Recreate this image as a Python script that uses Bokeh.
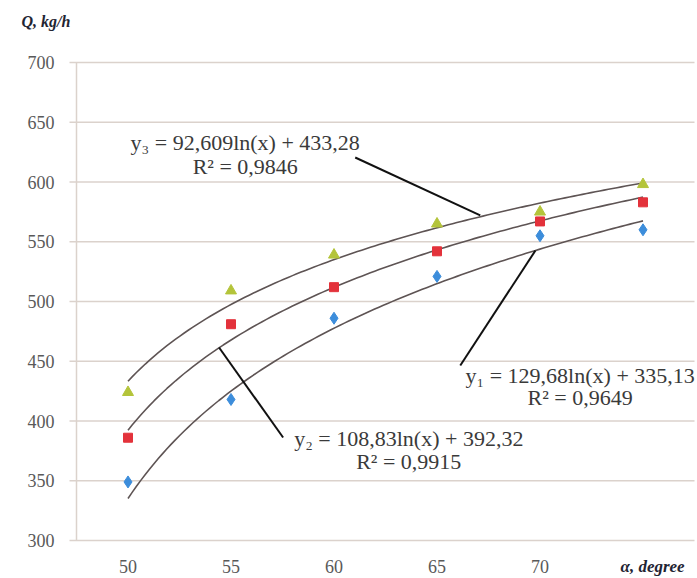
import numpy as np
from bokeh.plotting import figure
from bokeh.models import Range1d, Label, ColumnDataSource
from bokeh.core.properties import value
from bokeh.embed import file_html
from bokeh.resources import INLINE

# ---- data ----
alpha = [50, 55, 60, 65, 70, 75]
x_tick_labels = ["50", "55", "60", "65", "70"]
q_y1 = [349, 418, 486, 521, 555, 560]   # blue diamonds
q_y2 = [386, 481, 512, 542, 567, 583]   # red squares
q_y3 = [424, 509, 539, 565, 575, 598]   # green triangles
y_ticks = [300, 350, 400, 450, 500, 550, 600, 650, 700]
y_tick_labels = [str(t) for t in y_ticks]

# trendline equations shown on the chart: y = a*ln(x) + b, x = category index
trend_a = [129.68, 108.83, 92.609]
trend_b = [335.13, 392.32, 433.28]
eq_text = ["y\u2081 = 129,68ln(x) + 335,13", "y\u2082 = 108,83ln(x) + 392,32", "y\u2083 = 92,609ln(x) + 433,28"]
r2_text = ["R\u00b2 = 0,9649", "R\u00b2 = 0,9915", "R\u00b2 = 0,9846"]

SERIF = "Liberation Serif"

# plot-area limits (category axis from 47.5 to 77.5, value axis 300..700)
X0, X1, Y0, Y1 = 47.5, 77.5, 300, 700
W, H = 696, 576
px_x = 618 / (X1 - X0)     # pixels per x unit
px_y = 478 / (Y1 - Y0)     # pixels per y unit

p = figure(width=W, height=H, output_backend="svg", toolbar_location=None,
           x_range=Range1d(X0 - 76 / px_x, X1 + 2 / px_x),
           y_range=Range1d(Y0 - 36 / px_y, Y1 + 62 / px_y),
           min_border=0)
p.outline_line_color = None
p.background_fill_color = "white"
p.xaxis.visible = False
p.yaxis.visible = False
p.xgrid.grid_line_color = None
p.ygrid.grid_line_color = None

grid_col = "#dbd2cc"
# horizontal gridlines with their outward tick marks
p.segment(x0=[X0 - 7 / px_x] * len(y_ticks), x1=[X1] * len(y_ticks), y0=y_ticks, y1=y_ticks,
          line_color=grid_col, line_width=1.5)
# vertical axis line
p.segment(x0=[X0], x1=[X0], y0=[Y0], y1=[Y1], line_color=grid_col, line_width=1.5)

# tick labels
p.text(x=[X0 - 22 / px_x] * len(y_ticks), y=y_ticks, text=y_tick_labels,
       text_align="right", text_baseline="middle", text_font=value(SERIF),
       text_font_size="18px", text_color="#595959")
p.text(x=alpha[:5], y=[Y0 - 26 / px_y] * 5, text=x_tick_labels,
       text_align="center", text_baseline="middle", text_font=value(SERIF),
       text_font_size="18px", text_color="#595959")

# axis titles
p.text(x=[X0 - 55 / px_x], y=[Y1 + 41 / px_y], text=["Q, kg/h"],
       text_align="left", text_baseline="middle", text_font=value(SERIF),
       text_font_size="16px", text_font_style="bold italic", text_color="#1f2533")
p.text(x=[X0 + 544 / px_x], y=[Y0 - 26 / px_y], text=["\u03b1, degree"],
       text_align="left", text_baseline="middle", text_font=value(SERIF),
       text_font_size="17px", text_font_style="bold italic", text_color="#1f2533")

# trendlines
trend_col = "#5e5454"
xs_a = np.linspace(50, 75, 120)
idx = (xs_a - 45) / 5.0
for a, b in zip(trend_a, trend_b):
    p.line(xs_a, a * np.log(idx) + b, line_color=trend_col, line_width=1.6)

# data markers
src = ColumnDataSource(dict(a=alpha, y1=q_y1, y2=q_y2, y3=q_y3))
p.scatter("a", "y1", source=src, marker="diamond", size=12, fill_color="#3c8ddb", line_color="#3c8ddb")
p.scatter("a", "y2", source=src, marker="square", size=9, fill_color="#e3323b", line_color="#e3323b")
p.scatter("a", "y3", source=src, marker="triangle", size=11, fill_color="#b4c43a", line_color="#b4c43a")

# leader lines (callouts)
leaders = [((69.78, 542.7), (66.13, 446.4)),
           ((54.42, 461.5), (57.53, 386.2)),
           ((61.03, 620.5), (67.10, 572.0))]
for (x0, y0), (x1, y1) in leaders:
    p.line([x0, x1], [y0, y1], line_color="#111111", line_width=2)

# equation labels
label_pos = [(71.95, 438.0, 419.7), (63.63, 385.4, 366.0), (55.69, 633.0, 613.0)]
for (lx, ly1, ly2), e, r in zip(label_pos, eq_text, r2_text):
    p.add_layout(Label(x=lx, y=ly1, text=e, text_align="center", text_baseline="middle",
                       text_font=SERIF, text_font_size="22px", text_color="#3a3a3a"))
    p.add_layout(Label(x=lx, y=ly2, text=r, text_align="center", text_baseline="middle",
                       text_font=SERIF, text_font_size="22px", text_color="#3a3a3a"))

open("out.html", "w").write(file_html(p, INLINE))
